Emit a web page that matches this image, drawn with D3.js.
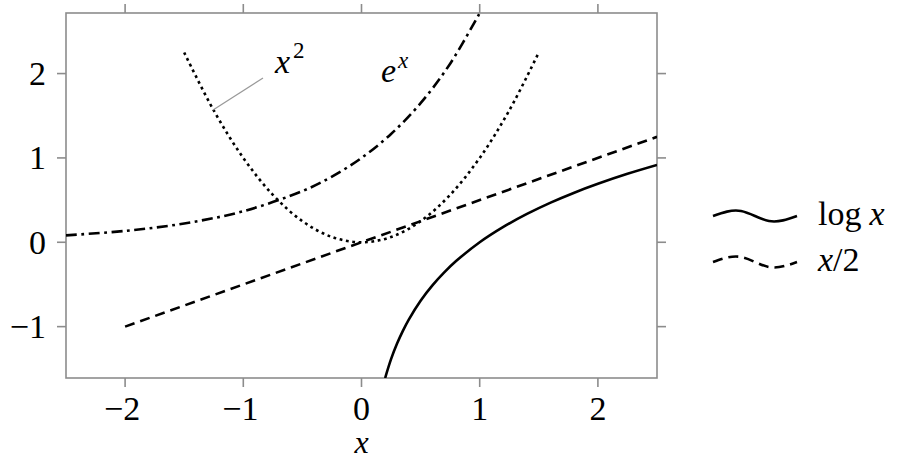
<!DOCTYPE html>
<html>
<head>
<meta charset="utf-8">
<script src="https://cdn.jsdelivr.net/npm/d3@7"></script>
<style>
  body { margin: 0; background: #fff; }
</style>
</head>
<body>
<svg></svg>
<script>
// values
var xTicks = [-2, -1, 0, 1, 2];
var yTicks = [-1, 0, 1, 2];

var logX = [0.2, 0.25, 0.3, 0.35, 0.4, 0.5, 0.6, 0.7, 0.8, 1, 1.2, 1.4, 1.6, 1.8, 2, 2.25, 2.5];
var logY = [-1.609, -1.386, -1.204, -1.050, -0.916, -0.693, -0.511, -0.357, -0.223, 0, 0.182, 0.336, 0.470, 0.588, 0.693, 0.811, 0.916];

var halfX = [-2, 2.5];
var halfY = [-1, 1.25];

var sqX = [-1.5, -1.25, -1, -0.75, -0.5, -0.25, 0, 0.25, 0.5, 0.75, 1, 1.25, 1.5];
var sqY = [2.25, 1.5625, 1, 0.5625, 0.25, 0.0625, 0, 0.0625, 0.25, 0.5625, 1, 1.5625, 2.25];

var expX = [-2.5, -2, -1.5, -1, -0.5, -0.25, 0, 0.25, 0.5, 0.75, 1];
var expY = [0.082, 0.135, 0.223, 0.368, 0.607, 0.779, 1, 1.284, 1.649, 2.117, 2.718];

var legendNames = ["log x", "x/2"];

window.onload = function(){
    var svg = d3.select("svg")
        .attr("width", 899)
        .attr("height", 462)
        .attr("font-family", "'Liberation Serif', serif");

    var left = 66, right = 657, top = 13, bottom = 378;
    var fs = 34;

    var x = d3.scaleLinear().domain([-2.5, 2.5]).range([left, right]);
    var y = d3.scaleLinear().domain([-1.609, 2.718]).range([bottom, top]);

    var axisColor = "#8c8c8c";

    // frame
    svg.append("rect")
        .attr("x", left).attr("y", top)
        .attr("width", right - left).attr("height", bottom - top)
        .attr("fill", "none").attr("stroke", axisColor).attr("stroke-width", 1.6);

    // ticks on all four sides, outside
    var tickLen = 9;
    xTicks.forEach(function(t){
        svg.append("line").attr("x1", x(t)).attr("x2", x(t))
            .attr("y1", bottom).attr("y2", bottom + tickLen)
            .attr("stroke", axisColor).attr("stroke-width", 1.6);
        svg.append("line").attr("x1", x(t)).attr("x2", x(t))
            .attr("y1", top).attr("y2", top - tickLen)
            .attr("stroke", axisColor).attr("stroke-width", 1.6);
        svg.append("text")
            .attr("x", x(t) - (t < 0 ? 3 : 0)).attr("y", 420)
            .attr("text-anchor", "middle")
            .attr("font-size", fs)
            .text(t < 0 ? "\u2212" + Math.abs(t) : t);
    });
    yTicks.forEach(function(t){
        svg.append("line").attr("y1", y(t)).attr("y2", y(t))
            .attr("x1", left).attr("x2", left - tickLen)
            .attr("stroke", axisColor).attr("stroke-width", 1.6);
        svg.append("line").attr("y1", y(t)).attr("y2", y(t))
            .attr("x1", right).attr("x2", right + tickLen)
            .attr("stroke", axisColor).attr("stroke-width", 1.6);
        svg.append("text")
            .attr("x", 46).attr("y", y(t) + 11.5)
            .attr("text-anchor", "end")
            .attr("font-size", fs)
            .text(t < 0 ? "\u2212" + Math.abs(t) : t);
    });

    // axis label
    svg.append("text")
        .attr("x", x(0)).attr("y", 453)
        .attr("text-anchor", "middle")
        .attr("font-size", 32)
        .attr("font-style", "italic")
        .text("x");

    var line = d3.line()
        .x(function(d){ return x(d[0]); })
        .y(function(d){ return y(d[1]); })
        .curve(d3.curveCatmullRom);

    var curves = [
        {xs: logX, ys: logY, dash: null},
        {xs: halfX, ys: halfY, dash: "10,6"},
        {xs: sqX, ys: sqY, dash: "2.8,3.6"},
        {xs: expX, ys: expY, dash: "11,4.5,2.8,4.5"}
    ];

    svg.append("defs").append("clipPath").attr("id", "plotclip")
        .append("rect").attr("x", left).attr("y", top)
        .attr("width", right - left).attr("height", bottom - top);

    svg.append("g").attr("clip-path", "url(#plotclip)")
        .selectAll("path")
        .data(curves).enter()
        .append("path")
        .attr("d", function(c){
            return line(c.xs.map(function(v, i){ return [v, c.ys[i]]; }));
        })
        .attr("fill", "none")
        .attr("stroke", "#000")
        .attr("stroke-width", 2.6)
        .attr("stroke-dasharray", function(c){ return c.dash; });

    // pin for x^2
    svg.append("line")
        .attr("x1", 213).attr("y1", 110).attr("x2", 263).attr("y2", 78)
        .attr("stroke", "#999").attr("stroke-width", 1.2);

    var sq = svg.append("text").attr("x", 275).attr("y", 73).attr("font-size", fs);
    sq.append("tspan").attr("font-style", "italic").text("x");
    sq.append("tspan").attr("font-size", 23).attr("dy", -15).attr("dx", 3).text("2");

    var ex = svg.append("text").attr("x", 381).attr("y", 82).attr("font-size", fs);
    ex.append("tspan").attr("font-style", "italic").text("e");
    ex.append("tspan").attr("font-style", "italic").attr("font-size", 23).attr("dy", -14).attr("dx", 2).text("x");

    // legend with wavy samples
    var wave = d3.line().curve(d3.curveNatural);
    var legendY = [216, 262];
    var legendDash = [null, "10,6"];
    legendNames.forEach(function(name, i){
        var cy = legendY[i];
        svg.append("path")
            .attr("d", wave([[713, cy], [741, cy - 5], [769, cy + 5], [797, cy]]))
            .attr("fill", "none").attr("stroke", "#000").attr("stroke-width", 2.6)
            .attr("stroke-dasharray", legendDash[i]);
        var t = svg.append("text").attr("x", 818).attr("y", cy + 9).attr("font-size", fs);
        if (i === 0) {
            t.append("tspan").text("log");
            t.append("tspan").attr("font-style", "italic").attr("dx", 8).text("x");
        } else {
            t.append("tspan").attr("font-style", "italic").text("x");
            t.append("tspan").text("/2");
        }
    });
};
</script>
</body>
</html>
